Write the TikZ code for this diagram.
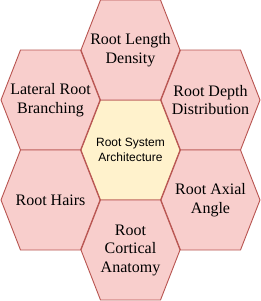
\documentclass[tikz,border=0pt]{standalone}
\usepackage{fontspec}
\setmainfont{Liberation Serif}
\setsansfont{Liberation Sans}
\usepackage{xcolor}
\usepackage{tikz}
\usetikzlibrary{calc,backgrounds}
\definecolor{edgec}{HTML}{B85450}
\definecolor{pinkbg}{HTML}{F8CECC}
\definecolor{yellbg}{HTML}{FFF2CC}
\tikzset{
  hx/.style={minimum width=99pt,minimum height=100pt,inner sep=0pt,outer sep=0pt,align=center,
    font=\fontsize{16}{18.5}\selectfont},
  hxc/.style={hx,font=\sffamily\fontsize{12}{14.5}\selectfont},
  hexb/.style={draw=edgec,line width=0.9pt,line join=miter}
}
\begin{document}
\begin{tikzpicture}[x=1pt,y=1pt]
\useasboundingbox (0,0) rectangle (261,301);
\node[hxc] (rsa) at (130.5,151) {Root System\\Architecture};
\node[hx] (rld) at (130.5,251) {Root Length\\Density};
\node[hx] (lrb) at (50.5,201) {Lateral Root\\Branching};
\node[hx] (rdd) at (210.5,201) {Root Depth\\Distribution};
\node[hx] (rh) at (50.5,101) {Root Hairs};
\node[hx] (raa) at (210.5,101) {Root Axial\\Angle};
\node[hx] (rca) at (130.5,51) {Root\\Cortical\\Anatomy};
% hexagons behind the labels
\begin{scope}[on background layer]
\foreach \n/\c in {rsa/yellbg,rld/pinkbg,lrb/pinkbg,rdd/pinkbg,rh/pinkbg,raa/pinkbg,rca/pinkbg}
  \draw[hexb,fill=\c] (\n.west) -- ([xshift=19.5pt]\n.north west) -- ([xshift=-19.5pt]\n.north east)
    -- (\n.east) -- ([xshift=-19.5pt]\n.south east) -- ([xshift=19.5pt]\n.south west) -- cycle;
\end{scope}
\end{tikzpicture}
\end{document}
